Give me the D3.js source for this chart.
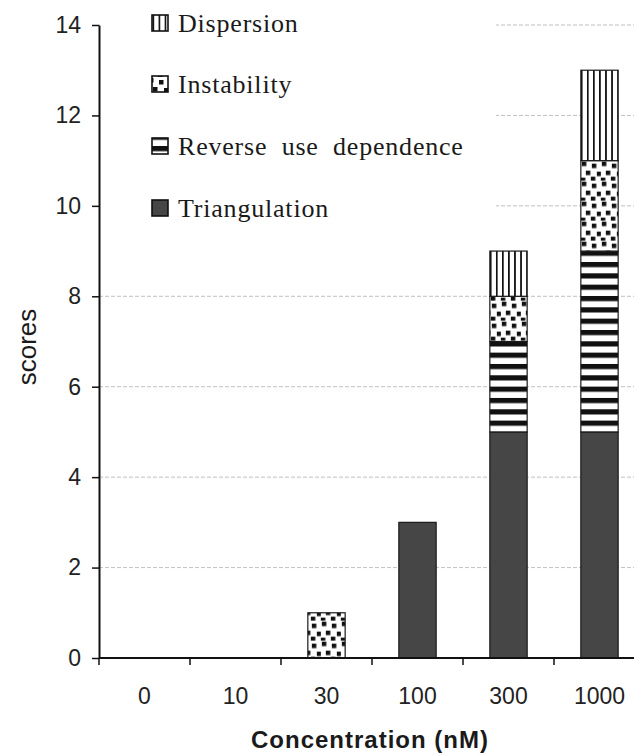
<!DOCTYPE html>
<html>
<head>
<meta charset="utf-8">
<script src="https://cdn.jsdelivr.net/npm/d3@7"></script>
<style>
  body { margin: 0; background: #fff; }
  svg { display: block; }
</style>
</head>
<body>
<div id="chart"></div>
<script>
// values
let categories = ['0', '10', '30', '100', '300', '1000'];
let seriesNames = ['Triangulation', 'Reverse use dependence', 'Instability', 'Dispersion'];
let triangulation = [0, 0, 0, 3, 5, 5];
let reverseUse = [0, 0, 0, 0, 2, 4];
let instability = [0, 0, 1, 0, 1, 2];
let dispersion = [0, 0, 0, 0, 1, 2];
let yTicks = [0, 2, 4, 6, 8, 10, 12, 14];
let legendOrder = ['Dispersion', 'Instability', 'Reverse use dependence', 'Triangulation'];

let width = 634, height = 756;

let rows = categories.map((c, i) => ({
  conc: c,
  'Triangulation': triangulation[i],
  'Reverse use dependence': reverseUse[i],
  'Instability': instability[i],
  'Dispersion': dispersion[i]
}));

let svg = d3.select('#chart').append('svg')
  .attr('width', width)
  .attr('height', height);

let x = d3.scaleBand()
  .domain(categories)
  .range([99, 645])
  .paddingInner(0.59)
  .paddingOuter(0.295);

let y = d3.scaleLinear()
  .domain([0, 14])
  .range([658, 25]);

let step = x.step();
let defs = svg.append('defs');

// fills
function stripesH(id, y0) {
  let p = defs.append('pattern').attr('id', id)
    .attr('patternUnits', 'userSpaceOnUse')
    .attr('width', 10).attr('height', 11.33).attr('y', y0);
  p.append('rect').attr('width', 10).attr('height', 11.33).attr('fill', '#fff');
  p.append('rect').attr('width', 10).attr('height', 5.2).attr('fill', '#111');
}
function stripesV(id, x0) {
  let w = step / 15;
  let p = defs.append('pattern').attr('id', id)
    .attr('patternUnits', 'userSpaceOnUse')
    .attr('width', w).attr('height', 10).attr('x', x0);
  p.append('rect').attr('width', w).attr('height', 10).attr('fill', '#fff');
  p.append('rect').attr('width', 1.7).attr('height', 10).attr('fill', '#111');
}
function dots(id, x0, y0) {
  let p = defs.append('pattern').attr('id', id)
    .attr('patternUnits', 'userSpaceOnUse')
    .attr('width', 20).attr('height', 20).attr('x', x0).attr('y', y0);
  p.append('rect').attr('width', 20).attr('height', 20).attr('fill', '#fff');
  [[1, 1], [11, 3], [16, 11], [5, 10], [10, 16], [0, 17]].forEach(s => {
    p.append('rect').attr('x', s[0]).attr('y', s[1])
      .attr('width', 4.5).attr('height', 4.5).attr('fill', '#111');
  });
}

stripesH('rev', y(5));
stripesV('disp', x('1000'));
dots('dots', x('1000'), y(11));
stripesH('rev-leg', 146);
stripesV('disp-leg', 152.5);
dots('dots-leg', 148, 77);

let fills = {
  'Triangulation': '#464646',
  'Reverse use dependence': 'url(#rev)',
  'Instability': 'url(#dots)',
  'Dispersion': 'url(#disp)'
};
let legFills = {
  'Triangulation': '#464646',
  'Reverse use dependence': 'url(#rev-leg)',
  'Instability': 'url(#dots-leg)',
  'Dispersion': 'url(#disp-leg)'
};

// gridlines
svg.append('g')
  .selectAll('line')
  .data(yTicks.filter(d => d > 0))
  .enter().append('line')
  .attr('x1', 99).attr('x2', width)
  .attr('y1', d => y(d)).attr('y2', d => y(d))
  .attr('stroke', '#c0c0c0')
  .attr('stroke-width', 1)
  .attr('stroke-dasharray', '4,2');

// legend sits on a white box over the grid
svg.append('rect')
  .attr('x', 100).attr('y', 0)
  .attr('width', 396).attr('height', 240)
  .attr('fill', '#fff');

let stack = d3.stack().keys(seriesNames)(rows);

svg.append('g')
  .selectAll('g')
  .data(stack)
  .enter().append('g')
  .attr('fill', d => fills[d.key])
  .selectAll('rect')
  .data(d => d.filter(s => s[1] - s[0] > 0))
  .enter().append('rect')
  .attr('x', d => x(d.data.conc))
  .attr('y', d => y(d[1]))
  .attr('width', x.bandwidth())
  .attr('height', d => y(d[0]) - y(d[1]))
  .attr('stroke', '#1a1a1a')
  .attr('stroke-width', 1.2);

// y axis
let yAxis = svg.append('g')
  .attr('transform', 'translate(99,0)')
  .call(d3.axisLeft(y).tickValues(yTicks).tickSize(7).tickSizeOuter(0).tickPadding(11));
yAxis.select('.domain').attr('stroke', '#111').attr('stroke-width', 2);
yAxis.selectAll('.tick line').attr('stroke', '#111').attr('stroke-width', 1.5);
yAxis.selectAll('text')
  .attr('font-family', 'Liberation Sans, Arial, sans-serif')
  .attr('font-size', 23)
  .attr('fill', '#222');

// x axis
let xAxis = svg.append('g')
  .attr('transform', 'translate(0,658)')
  .call(d3.axisBottom(x).tickSize(0).tickPadding(30));
xAxis.select('.domain').remove();
xAxis.selectAll('text')
  .attr('font-family', 'Liberation Sans, Arial, sans-serif')
  .attr('font-size', 23)
  .attr('fill', '#222');
xAxis.append('line')
  .attr('x1', x.range()[0]).attr('x2', x.range()[1])
  .attr('stroke', '#111').attr('stroke-width', 2);
xAxis.selectAll('.sep')
  .data(d3.range(categories.length + 1))
  .enter().append('line')
  .attr('class', 'sep')
  .attr('x1', i => x.range()[0] + i * step)
  .attr('x2', i => x.range()[0] + i * step)
  .attr('y1', 0).attr('y2', 7)
  .attr('stroke', '#111').attr('stroke-width', 1.5);

// axis titles
svg.append('text')
  .attr('x', 370).attr('y', 748)
  .attr('text-anchor', 'middle')
  .attr('font-family', 'Liberation Sans, Arial, sans-serif')
  .attr('font-size', 24)
  .attr('font-weight', 'bold')
  .attr('letter-spacing', 1)
  .attr('fill', '#1a1a1a')
  .text('Concentration (nM)');

svg.append('text')
  .attr('transform', 'translate(36,347) rotate(-90)')
  .attr('text-anchor', 'middle')
  .attr('font-family', 'Liberation Sans, Arial, sans-serif')
  .attr('font-size', 26)
  .attr('fill', '#1a1a1a')
  .text('scores');

// legend
let legend = svg.append('g');
let baselines = [32, 93, 155, 217];
legendOrder.forEach((name, i) => {
  let by = baselines[i];
  legend.append('rect')
    .attr('x', 152).attr('y', by - 17)
    .attr('width', 16).attr('height', 16)
    .attr('fill', legFills[name])
    .attr('stroke', '#111')
    .attr('stroke-width', 1.6);
  legend.append('text')
    .attr('x', 178).attr('y', by)
    .attr('font-family', 'Liberation Serif, Times New Roman, serif')
    .attr('font-size', 26)
    .attr('letter-spacing', 0.8)
    .attr('word-spacing', 7)
    .attr('fill', '#1a1a1a')
    .text(name);
});
</script>
</body>
</html>
